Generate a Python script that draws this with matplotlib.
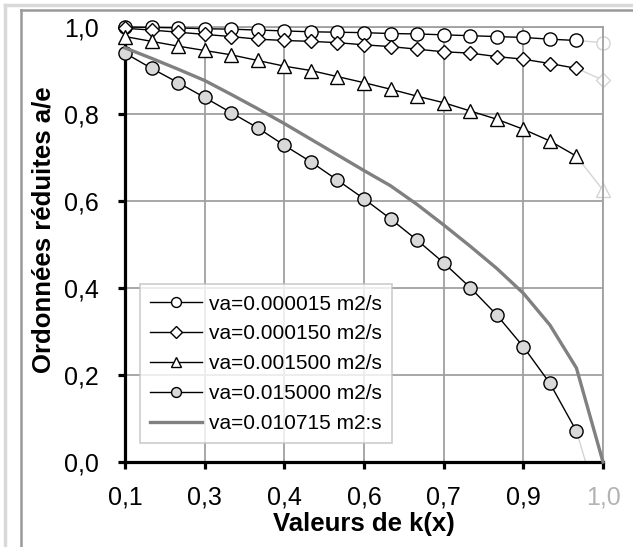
import numpy as np
import matplotlib
matplotlib.use('Agg')
import matplotlib.pyplot as plt
from matplotlib.lines import Line2D

plt.rcParams['font.family'] = ['Liberation Sans', 'DejaVu Sans']

# k values (category axis, every 3rd one labelled)
k = np.arange(19) * 0.05 + 0.1
tick_labels = ['0,1', '0,3', '0,4', '0,6', '0,7', '0,9', '1,0']

y_va_000015 = [1.000, 0.999, 0.998, 0.996, 0.995, 0.993, 0.991, 0.989, 0.988, 0.987,
               0.985, 0.984, 0.982, 0.980, 0.978, 0.976, 0.972, 0.969, 0.964]
y_va_000150 = [0.997, 0.993, 0.988, 0.983, 0.978, 0.972, 0.969, 0.967, 0.964, 0.959,
               0.955, 0.949, 0.943, 0.940, 0.932, 0.926, 0.916, 0.905, 0.878]
y_va_001500 = [0.978, 0.967, 0.956, 0.946, 0.936, 0.923, 0.910, 0.900, 0.886, 0.872,
               0.857, 0.841, 0.826, 0.807, 0.788, 0.765, 0.738, 0.703, 0.625]
y_va_015000 = [0.940, 0.905, 0.872, 0.838, 0.803, 0.768, 0.728, 0.690, 0.648, 0.605,
               0.559, 0.510, 0.458, 0.401, 0.338, 0.265, 0.181, 0.071, -0.134]
y_va_010715 = [0.952, 0.928, 0.903, 0.877, 0.845, 0.812, 0.778, 0.742, 0.706, 0.670,
               0.635, 0.592, 0.545, 0.496, 0.445, 0.388, 0.315, 0.216, 0.0]

labels = ['va=0.000015 m2/s', 'va=0.000150 m2/s', 'va=0.001500 m2/s',
          'va=0.015000 m2/s', 'va=0.010715 m2:s']

fig = plt.figure(figsize=(6.33, 5.47), dpi=100)
ax = fig.add_axes([125 / 633, 1 - 462 / 547, 478 / 633, 435 / 547])

light = '#d4d4d4'
series = [
    (y_va_000015, 'o', 'white', 9.5),
    (y_va_000150, 'D', 'white', 7.5),
    (y_va_001500, '^', 'white', 10),
    (y_va_015000, 'o', '#d9d9d9', 9.5),
]

handles = []
for (y, mk, fc, ms), lab in zip(series, labels[:4]):
    y = np.array(y)
    # last segment is drawn in light grey
    ax.plot(k[-2:], y[-2:], color=light, lw=1.0, zorder=2)
    if y[-1] >= 0:
        ax.plot(k[-1:], y[-1:], ls='none', marker=mk, ms=ms, mfc='white',
                mec=light, mew=1.0, clip_on=False, zorder=2)
    ax.plot(k[:-1], y[:-1], color='black', lw=1.0, marker=mk, ms=ms, mfc=fc,
            mec='black', mew=1.0, clip_on=False, zorder=3)
    handles.append(Line2D([], [], color='black', lw=1.0, marker=mk,
                          ms=ms * 0.75, mfc=fc, mec='black', mew=1.0, label=lab))

ax.plot(k, y_va_010715, color='#808080', lw=2.4, zorder=4, clip_on=False)
handles.append(Line2D([], [], color='#808080', lw=2.4, label=labels[4]))

ax.set_xlim(k[0], k[-1])
ax.set_ylim(0, 1.0)
ax.set_xticks(k[::3])
ax.set_xticklabels(tick_labels)
ax.get_xticklabels()[-1].set_color('#b3b3b3')
yt = np.arange(0, 1.01, 0.2)
ax.set_yticks(yt)
ax.set_yticklabels([f'{v:.1f}'.replace('.', ',') for v in yt])

ax.grid(True, color='#a0a0a0', lw=1.3)
ax.set_axisbelow(True)
for s in ['top', 'right']:
    ax.spines[s].set_color('#a0a0a0')
    ax.spines[s].set_linewidth(1.3)
for s in ['left', 'bottom']:
    ax.spines[s].set_color('black')
    ax.spines[s].set_linewidth(2.3)
ax.tick_params(direction='out', length=5, width=2.3, labelsize=18)
ax.tick_params(axis='x', pad=12)
ax.tick_params(axis='y', pad=14)

ax.set_xlabel('Valeurs de k(x)', fontsize=18.5, fontweight='bold', labelpad=2)
ax.set_ylabel('Ordonnées réduites a/e', fontsize=18.5, fontweight='bold', labelpad=4)
ax.yaxis.set_label_coords(-0.145, 0.535)

leg = ax.legend(handles=handles, loc='lower left', bbox_to_anchor=(0.031, 0.043),
                fontsize=15, frameon=True, fancybox=False, handlelength=2.5,
                handletextpad=0.3, borderpad=0.5, labelspacing=0.52,
                borderaxespad=0)
leg.get_frame().set_edgecolor('#c0c0c0')
leg.get_frame().set_linewidth(1.2)

# chart area borders
fig.add_artist(plt.Line2D([5 / 633, 5 / 633], [0, 1 - 5 / 547], color='#d9d9d9', lw=2.5))
fig.add_artist(plt.Line2D([5 / 633, 1], [1 - 5 / 547, 1 - 5 / 547], color='#d9d9d9', lw=2.5))
fig.add_artist(plt.Line2D([21 / 633, 21 / 633], [0, 1 - 10 / 547], color='#999999', lw=1.8))
fig.add_artist(plt.Line2D([21 / 633, 1], [1 - 10 / 547, 1 - 10 / 547], color='#999999', lw=1.8))

fig.savefig('out.png', dpi=100)
